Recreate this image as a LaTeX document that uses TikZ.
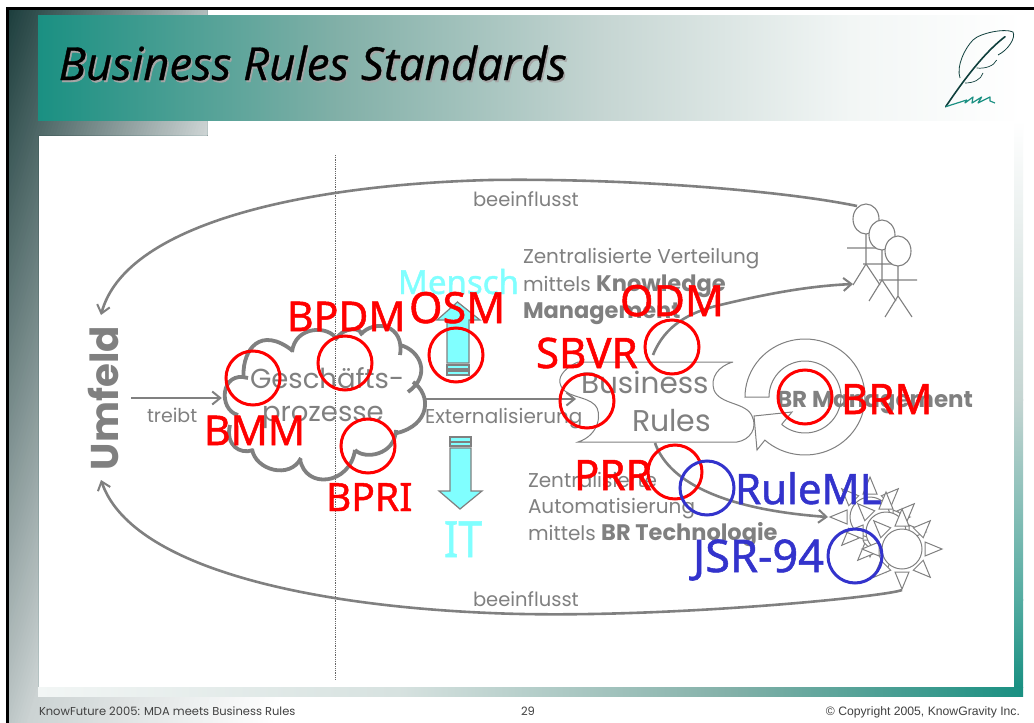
\documentclass[tikz,border=0pt]{standalone}
\usepackage{fontspec}
\usepackage{graphicx}
\usetikzlibrary{arrows.meta}
\setmainfont{Poppins}
\newfontfamily\labelfont[FakeBold=1.2]{Noto Sans}
\newfontfamily\titlefont[FakeBold=0.8]{Open Sans}
\newfontfamily\arialfont{Liberation Sans}
\definecolor{gr}{HTML}{808080}
\definecolor{teal1}{HTML}{1A9082}
\definecolor{tealB}{HTML}{82B0A8}
\definecolor{tealC}{HTML}{C5D5D2}
\definecolor{tealD}{HTML}{F2F6F5}
\definecolor{darkA}{HTML}{1C3D3C}
\definecolor{lightA}{HTML}{CCD3D3}
\definecolor{cyanA}{HTML}{80FFFF}
\definecolor{redA}{HTML}{FF0000}
\definecolor{blueA}{HTML}{3333CC}
\definecolor{quill}{HTML}{0F3F3C}
\tikzset{
  x=1pt,y=-1pt,
  gtext/.style={anchor=base west,inner sep=0,outer sep=0,text=gr,font=\fontsize{#1}{#1}\selectfont},
  lab/.style={anchor=base west,inner sep=0,outer sep=0,text=redA,font=\labelfont\fontsize{#1}{#1}\selectfont},
  blab/.style={lab=#1,text=blueA},
  ring/.style={circle,draw=redA,line width=3pt,minimum size=54pt,inner sep=0},
  bring/.style={ring,draw=blueA},
  loop/.style={draw=gr,line width=2.6pt,-{Straight Barb[length=8pt,width=13pt,line width=2pt]}},
  bump/.style={draw=gr,line width=3.8pt},
  thin1/.style={draw=gr,line width=1pt},
  blockarrow/.style={draw=gr,line width=1.2pt,fill=cyanA},
}
\newcommand{\hgrad}[6]{\shade[left color=#5,right color=#6] (#1,#2) rectangle (#3,#4);}
\newcommand{\vgrad}[6]{\shade[top color=#5,bottom color=#6] (#1,#2) rectangle (#3,#4);}
\newcommand{\sunshape}[2]{%
  \foreach \a in {0,45,...,315}{
    \draw[thin1,fill=white,shift={(#1,#2)},rotate=\a] (23,-7) -- (40,0) -- (23,7) -- cycle;}
  \draw[thin1,fill=white] (#1,#2) circle[radius=20];}
\newcommand{\stick}[2]{%
  \begin{scope}[shift={(#1,#2)}]
    \draw[thin1,line width=1.1pt] (0,15) -- (0,45) (-19,29) -- (19,29) (0,45) -- (-13,66) (0,45) -- (14,66);
    \draw[thin1,line width=1.1pt,fill=white] (0,0) ellipse[x radius=13,y radius=15];
  \end{scope}}
\begin{document}
\begin{tikzpicture}
\useasboundingbox (0,0) rectangle (1034,723);
\fill[white] (0,0) rectangle (1034,723);
% L-shaped grey gradient
\begin{scope}
  \clip (9,10) -- (207,10) -- (207,135) -- (38,135) -- (38,696) -- (320,696) -- (320,723) -- (9,723) -- cycle;
  \foreach \t in {0,3,...,234}{
    \pgfmathsetmacro{\p}{\t/235*100}
    \fill[lightA!\p!darkA] (9+\t,0) -- (9+\t-240,800) -- (1100,800) -- (1100,0) -- cycle;}
  \foreach \t in {235,240,...,480}{
    \pgfmathsetmacro{\p}{(\t-235)/245*100}
    \fill[white!\p!lightA] (9+\t,0) -- (9+\t-240,800) -- (1100,800) -- (1100,0) -- cycle;}
\end{scope}
\fill[white] (295,696) rectangle (330,723);
% title band
\hgrad{38}{15}{340}{120}{teal1}{tealB}
\hgrad{339.5}{15}{600}{120}{tealB}{tealC}
\hgrad{599.5}{15}{850}{120}{tealC}{tealD}
\hgrad{849.5}{15}{1023}{120}{tealD}{white}
% bottom and right bands
\hgrad{38}{687}{400}{696}{tealD}{tealC!70!white}
\hgrad{399.5}{687}{734}{696}{tealC!70!white}{tealB}
\hgrad{733.5}{687}{1023}{696}{tealB}{teal1}
\vgrad{1014}{120}{1023}{400}{white}{tealC}
\vgrad{1014}{399.5}{1023}{600}{tealC}{teal1!75!white}
\vgrad{1014}{599.5}{1023}{687}{teal1!75!white}{teal1}
% frame
\fill[black] (6,7) rectangle (1034,10);
\fill[black] (6,7) rectangle (9,723);
% title
\node[anchor=base west,inner sep=0,text=gray!70] (titleshadow) at (60,82) {\titlefont\itshape\fontsize{45.5}{45.5}\selectfont Business Rules Standards};
\node[anchor=base west,inner sep=0,text=black] (title) at (58.5,80) {\titlefont\itshape\fontsize{45.5}{45.5}\selectfont Business Rules Standards};
% quill
\draw[quill,line width=1.6pt,line cap=round] (945.7,106.7) .. controls (965,78) and (985,52) .. (1005,36.7);
\draw[quill,line width=.8pt] (960,78) .. controls (956,66) and (965,48) .. (973,40) .. controls (980,33) and (1005,28) .. (1013,32) .. controls (1016,38) and (1008,50) .. (998,55);
\draw[quill,line width=.7pt] (996.7,60) .. controls (994,66) and (985,69) .. (976.7,68);
\draw[quill,line width=.7pt] (983,73) .. controls (981,80) and (973,83) .. (965,83);
\draw[teal1,line width=1.2pt,line join=round] (945.7,106.7) -- (966.7,100) -- (965,103) -- (973,97) -- (972,103) -- (981.7,97) -- (978,103) -- (990,97) -- (990,101) -- (995,103);
% dotted divider
\coordinate (divA) at (335,155);
\coordinate (divB) at (335,680);
\draw[gray!80!black,line width=.8pt,densely dotted] (divA) -- (divB);
% people
\stick{866}{219}
\stick{882}{235}
\stick{898}{251}
% suns
\sunshape{870}{517}
\sunshape{886}{532}
\sunshape{902}{549}
% BR management cycle
\draw[thin1,fill=white] plot[domain=180:-132,samples=70] ({805+60*cos(\x)},{397-58*sin(\x)}) -- (757,450) -- (754,416) -- (792,412) -- (782,424) -- plot[domain=-130:180,samples=60] ({805+36*cos(\x)},{397-36*sin(\x)}) -- cycle;
% scroll
\draw[thin1] (733,362) -- (578,362) .. controls (568,366) and (558,375) .. (560,383) .. controls (563,398) and (585,395) .. (595,405) .. controls (602,412) and (600,435) .. (578,442) -- (737,442) .. controls (750,440) and (758,428) .. (752,416) .. controls (746,402) and (720,405) .. (714,390) .. controls (710,378) and (718,366) .. (733,362);
% cloud
\node[inner sep=0,minimum width=202pt,minimum height=150pt] (cloud) at (323,398) {};
\path[bump]
  (243.5,375) .. controls (243,350) and (260,325) .. (293,351)
  (292,352) .. controls (295,325) and (330,325) .. (337,340)
  (335,340) .. controls (345,325) and (362,328) .. (362,335)
  (360,335) .. controls (375,318) and (405,325) .. (400,355)
  (400,345) .. controls (420,350) and (432,375) .. (408,392)
  (413,382) .. controls (432,395) and (430,425) .. (397,433)
  (396,430) .. controls (395,455) and (365,460) .. (355,450)
  (355,450) .. controls (350,485) and (305,490) .. (300,459)
  (301,458) .. controls (290,480) and (255,470) .. (252,449)
  (253,450) .. controls (240,455) and (225,445) .. (230,425)
  (238,415) .. controls (218,410) and (220,370) .. (248,378);
% connectors
\coordinate (peopleEnd) at (857,206);
\coordinate (umfeldTop) at (101,315);
\coordinate (sunsEnd) at (902,590);
\coordinate (umfeldBot) at (101,480);
\coordinate (treibtS) at (131,398);
\coordinate (extS) at (423,399);
\coordinate (extE) at (576,399);
\coordinate (knowS) at (653,355);
\coordinate (knowE) at (853,284);
\coordinate (techS) at (655,443);
\coordinate (techE) at (828,517);
\draw[loop] (peopleEnd) .. controls (780,190) and (620,178) .. (490,180) .. controls (300,185) and (125,225) .. (umfeldTop);
\draw[loop] (sunsEnd) .. controls (885,597) and (650,620) .. (490,613) .. controls (300,605) and (130,565) .. (umfeldBot);
\draw[loop] (treibtS) -- (cloud.west);
\draw[loop] (extS) -- (extE);
\draw[loop] (knowS) .. controls (665,325) and (690,312) .. (720,305) .. controls (770,293) and (810,286) .. (knowE);
\draw[loop] (techS) .. controls (670,485) and (730,510) .. (techE);
% block arrows
\draw[blockarrow] (447,363) -- (447,320) -- (437,320) -- (457.5,302) -- (480,320) -- (469,320) -- (469,363) -- cycle;
\draw[blockarrow] (447,365) rectangle (469,369);
\draw[blockarrow] (447,371) rectangle (469,375);
\draw[blockarrow] (450,437) rectangle (471,441.5);
\draw[blockarrow] (450,442) rectangle (471,446);
\draw[blockarrow] (450,448) -- (450,491) -- (439,491) -- (460,509) -- (482,491) -- (471,491) -- (471,448) -- cycle;
% grey texts
\node[gtext=24,font=\fontsize{38.7}{38.7}\selectfont\bfseries,rotate=90] (umfeld) at (118,470) {Umfeld};
\node[gtext=19] (t1) at (147,422) {treibt};
\node[gtext=19.5] (t2) at (473,206) {beeinflusst};
\node[gtext=19.5] (t3) at (473,606) {beeinflusst};
\node[gtext=27.5] (t4) at (250,388) {Geschäfts-};
\node[gtext=27.5] (t5) at (262,421) {prozesse};
\node[gtext=20] (t6) at (425,423) {Externalisierung};
\node[gtext=20] (t7) at (523,263) {Zentralisierte Verteilung};
\node[gtext=20] (t8) at (523,291) {mittels {\fontsize{22.5}{22.5}\selectfont\bfseries Knowledge}};
\node[gtext=22.5,font=\fontsize{22.5}{22.5}\selectfont\bfseries] (t9) at (523,318) {Management};
\node[gtext=29.5] (t10) at (581,393) {Business};
\node[gtext=30] (t11) at (632,431) {Rules};
\node[gtext=23,font=\fontsize{23}{23}\selectfont\bfseries] (t12) at (777,407) {BR Management};
\node[gtext=20] (t13) at (528,487) {Zentralisierte};
\node[gtext=20] (t14) at (528,513) {Automatisierung};
\node[gtext=20] (t15) at (528,540) {mittels {\fontsize{22.5}{22.5}\selectfont\bfseries BR Technologie}};
\node[gtext=11.5,text=black!75] (f1) at (39,715) {KnowFuture 2005: MDA meets Business Rules};
\node[gtext=11.5,text=black!75] (f2) at (521,715) {29};
\node[gtext=12,text=black!75,anchor=base east,font=\arialfont\fontsize{12.2}{12.2}\selectfont] (f3) at (1020,715) {© Copyright 2005, KnowGravity Inc.};
% cyan labels
\node[lab=33,text=cyanA] (mensch) at (398,294) {Mensch};
\node[lab=50,text=cyanA] (it) at (444,557) {\scalebox{.85}[1]{IT}};
% rings
\node[ring] (rBMM) at (253,378) {};
\node[ring] (rBPDM) at (345,363) {};
\node[ring] (rBPRI) at (368,446) {};
\node[ring] (rOSM) at (456,355) {};
\node[ring] (rSBVR) at (587,401) {};
\node[ring] (rODM) at (672,347) {};
\node[ring] (rBRM) at (805,397) {};
\node[ring] (rPRR) at (675,472) {};
\node[bring] (rRule) at (707,488) {};
\node[bring] (rJSR) at (855,556) {};
% standard labels
\node[lab=41] (lBPDM) at (287,331) {BPDM};
\node[lab=41] (lBMM) at (204,445) {BMM};
\node[lab=39] (lBPRI) at (326,511) {BPRI};
\node[lab=43] (lOSM) at (409,323) {OSM};
\node[lab=42] (lSBVR) at (536,368) {SBVR};
\node[lab=43] (lODM) at (620,316) {ODM};
\node[lab=42] (lBRM) at (841,414) {BRM};
\node[lab=42] (lPRR) at (574,490) {PRR};
\node[blab=42] (lRule) at (735,504) {RuleML};
\node[blab=45] (lJSR) at (693,572) {JSR-94};
\end{tikzpicture}
\end{document}
